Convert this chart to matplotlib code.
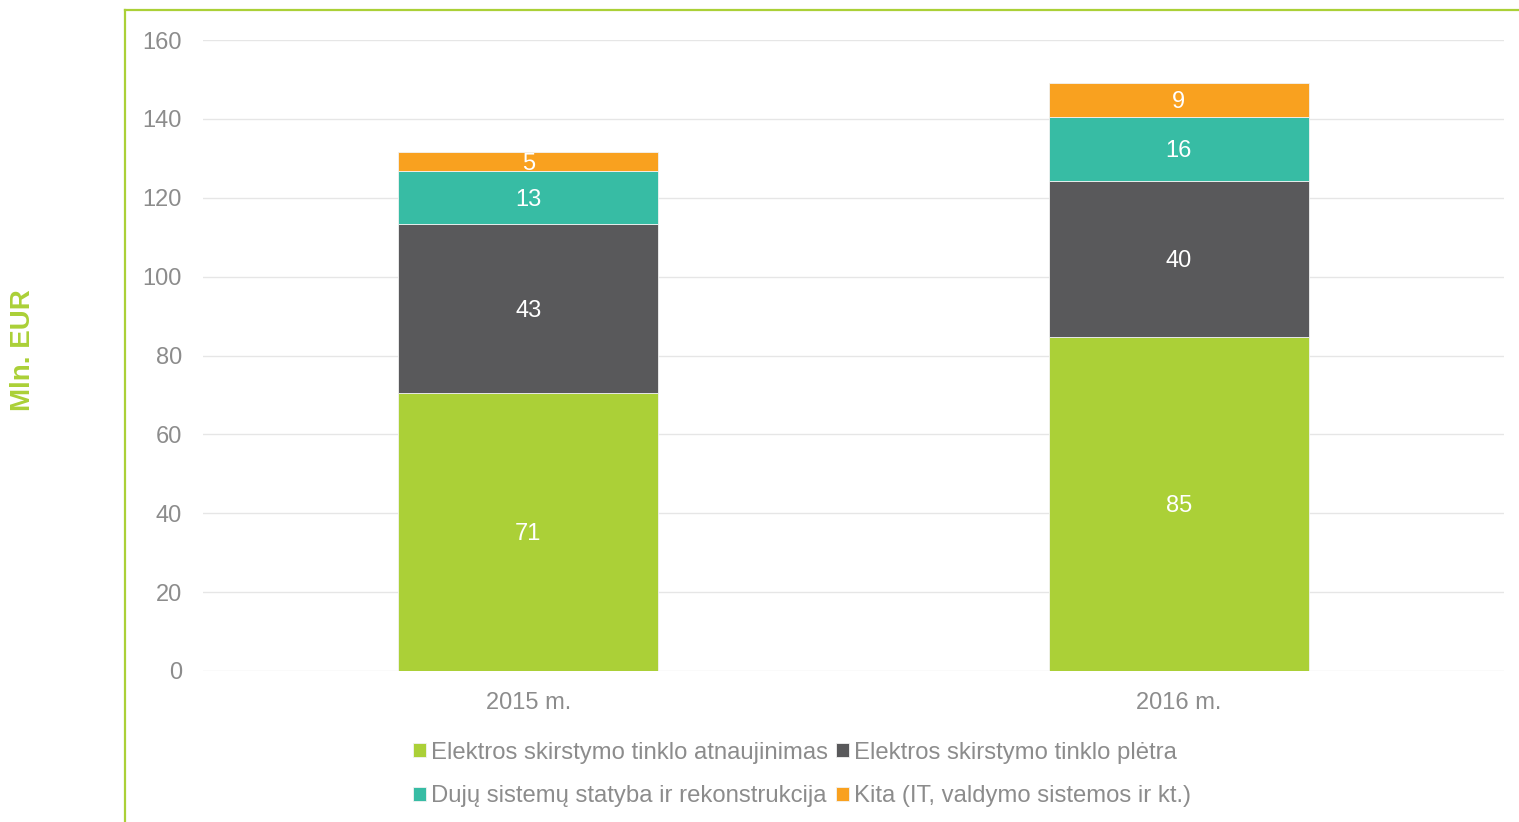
import matplotlib.pyplot as plt
from matplotlib.lines import Line2D

plt.rcParams['font.family'] = ['Liberation Sans', 'DejaVu Sans']

# data (Mln. EUR)
years = ['2015 m.', '2016 m.']
renewal = [70.6, 84.7]
expansion = [42.8, 39.6]
gas = [13.4, 16.2]
other = [4.8, 8.6]
series_names = ['Elektros skirstymo tinklo atnaujinimas',
                'Elektros skirstymo tinklo plėtra',
                'Dujų sistemų statyba ir rekonstrukcija',
                'Kita (IT, valdymo sistemos ir kt.)']
colors = ['#ABD037', '#59595B', '#37BCA4', '#F9A11F']
gray = '#8C8C8C'

fig = plt.figure(figsize=(15.19, 8.22), dpi=100)
ax = fig.add_axes([0.1336, 0.1837, 0.8565, 0.7676])

x = range(len(years))
bottom = [0, 0]
bars = []
for vals, col in zip([renewal, expansion, gas, other], colors):
    b = ax.bar(x, vals, width=0.4, bottom=bottom, color=col,
               edgecolor='#F2F2F2', linewidth=0.6, zorder=3)
    bars.append(b)
    for xi, v, bt in zip(x, vals, bottom):
        ax.text(xi, bt + v / 2, f'{v:.0f}', ha='center', va='center_baseline',
                color='white', fontsize=17, zorder=4)
    bottom = [a + v for a, v in zip(bottom, vals)]

ax.set_xlim(-0.5, 1.5)
ax.set_ylim(0, 160)
ax.set_yticks(range(0, 161, 20))
ax.set_xticks(list(x))
ax.set_xticklabels(years)
ax.grid(axis='y', color='#E6E6E6', linewidth=1.0, zorder=0)
for s in ax.spines.values():
    s.set_visible(False)
ax.tick_params(axis='both', length=0, labelsize=17, colors=gray)
ax.tick_params(axis='y', pad=15)
ax.tick_params(axis='x', pad=15)

# green frame
fig.add_artist(Line2D([125 / 1519, 125 / 1519], [0, 1 - 10 / 822],
                      color='#ABD037', linewidth=1.6))
fig.add_artist(Line2D([125 / 1519, 1], [1 - 10 / 822, 1 - 10 / 822],
                      color='#ABD037', linewidth=1.6))

fig.text(23 / 1519, 1 - 350 / 822, 'Mln. EUR', rotation=90, ha='center',
         va='center', color='#ABD037', fontsize=20, fontweight='bold')

handles = [bars[0], bars[2], bars[1], bars[3]]
labels = [series_names[0], series_names[2], series_names[1], series_names[3]]
fig.legend(handles, labels, ncol=2, loc='center', bbox_to_anchor=(0.528, 1 - 774.5 / 822),
           frameon=False, fontsize=17.2, labelcolor=gray, handlelength=0.55,
           handleheight=0.55, handletextpad=0.2, columnspacing=0.35,
           labelspacing=0.9)

fig.savefig('out.png', dpi=100)
